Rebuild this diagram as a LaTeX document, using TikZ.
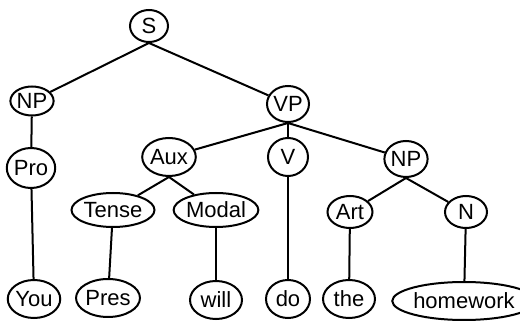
\documentclass[tikz,border=0pt]{standalone}
\usepackage{fontspec}
\setmainfont{Liberation Sans}
\usetikzlibrary{shapes.geometric}
\begin{document}
\begin{tikzpicture}[x=1pt,y=-1pt,
  tn/.style={draw,ellipse,line width=2pt,inner sep=0pt,font=\fontsize{22}{24}\selectfont},
  edge/.style={line width=2pt}]
\useasboundingbox (0,0) rectangle (520,331);
\node[tn,minimum width=38,minimum height=32] (S) at (149,26) {S};
\node[tn,minimum width=41,minimum height=29] (NP1) at (32,101) {NP};
\node[tn,minimum width=42,minimum height=36] (VP) at (288,104) {VP};
\node[tn,minimum width=48,minimum height=40] (Pro) at (31,168) {Pro};
\node[tn,minimum width=45,minimum height=38] (Aux) at (169,157) {Aux};
\node[tn,minimum width=40,minimum height=38] (V) at (288,157) {V};
\node[tn,minimum width=43,minimum height=36] (NP2) at (406,159) {NP};
\node[tn,minimum width=68,minimum height=34] (Tense) at (113,210) {Tense};
\node[tn,minimum width=68,minimum height=34] (Modal) at (216,210) {Modal};
\node[tn,minimum width=45,minimum height=32] (Art) at (350,212) {Art};
\node[tn,minimum width=42,minimum height=32] (N) at (466,212) {N};
\node[tn,minimum width=52,minimum height=38] (You) at (34,299) {You};
\node[tn,minimum width=52,minimum height=38] (Pres) at (108,298) {Pres};
\node[tn,minimum width=52,minimum height=38] (will) at (216,300) {will};
\node[tn,minimum width=44,minimum height=38] (do) at (288,299) {do};
\node[tn,minimum width=52,minimum height=38] (the) at (349,299) {the};
\node[tn,minimum width=112,minimum height=38] (hw) at (464,301) {homework};
\draw[edge] (S.south) -- (NP1);
\draw[edge] (S.south) -- (VP);
\draw[edge] (NP1) -- (Pro);
\draw[edge] (Pro) -- (You);
\draw[edge] (VP.south) -- (Aux);
\draw[edge] (VP) -- (V);
\draw[edge] (VP.south) -- (NP2);
\draw[edge] (Aux.south) -- (Tense);
\draw[edge] (Aux.south) -- (Modal);
\draw[edge] (Tense) -- (Pres);
\draw[edge] (Modal) -- (will);
\draw[edge] (V) -- (do);
\draw[edge] (NP2.south) -- (Art);
\draw[edge] (NP2.south) -- (N);
\draw[edge] (Art) -- (the);
\draw[edge] (N) -- (hw);
\end{tikzpicture}
\end{document}
